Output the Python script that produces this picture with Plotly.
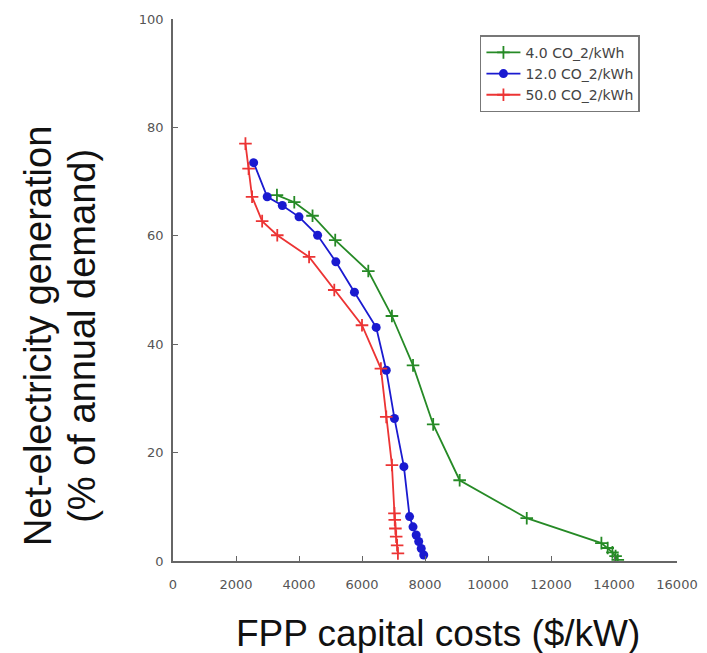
import plotly.graph_objects as go

# FPP capital costs ($/kW) vs net-electricity generation (% of annual demand)
green_label = "4.0 CO_2/kWh"
green_x = [3300, 3850, 4430, 5150, 6200, 6950, 7620, 8260, 9100, 11230, 13600, 13800, 13950, 14050, 14120]
green_y = [67.5, 66.2, 63.7, 59.2, 53.5, 45.2, 36.1, 25.2, 14.9, 7.9, 3.3, 2.4, 1.6, 0.9, 0.2]

blue_label = "12.0 CO_2/kWh"
blue_x = [2560, 2990, 3470, 4000, 4590, 5170, 5760, 6450, 6770, 7030, 7330, 7510, 7620, 7720, 7800, 7880, 7960]
blue_y = [73.5, 67.2, 65.6, 63.5, 60.1, 55.2, 49.6, 43.1, 35.2, 26.3, 17.4, 8.2, 6.3, 4.8, 3.6, 2.3, 1.1]

red_label = "50.0 CO_2/kWh"
red_x = [2300, 2400, 2510, 2830, 3310, 4320, 5120, 6000, 6600, 6770, 6950, 7030, 7040, 7060, 7085, 7115, 7140]
red_y = [77.0, 72.4, 67.2, 62.7, 60.1, 56.1, 50.0, 43.5, 35.5, 26.6, 17.7, 8.8, 7.6, 6.0, 4.5, 2.9, 1.4]

x_ticks = [0, 2000, 4000, 6000, 8000, 10000, 12000, 14000, 16000]
y_ticks = [0, 20, 40, 60, 80, 100]

x_title = "FPP capital costs ($/kW)"
y_title_1 = "Net-electricity generation"
y_title_2 = "(% of annual demand)"

GREEN = "#268a26"
BLUE = "#1a1ad0"
RED = "#ec3434"

fig = go.Figure()
fig.add_trace(go.Scatter(
    x=green_x, y=green_y, name=green_label, mode="lines+markers",
    line=dict(color=GREEN, width=1.8),
    marker=dict(symbol="cross-thin", size=9, color=GREEN, line=dict(color=GREEN, width=1.8)),
))
fig.add_trace(go.Scatter(
    x=blue_x, y=blue_y, name=blue_label, mode="lines+markers",
    line=dict(color=BLUE, width=1.8),
    marker=dict(symbol="circle", size=9, color=BLUE, line=dict(width=0)),
))
fig.add_trace(go.Scatter(
    x=red_x, y=red_y, name=red_label, mode="lines+markers",
    line=dict(color=RED, width=1.8),
    marker=dict(symbol="cross-thin", size=9, color=RED, line=dict(color=RED, width=1.8)),
))

axis_common = dict(
    showgrid=False, zeroline=False, showline=True, linecolor="#666666", linewidth=1.5,
    ticks="inside", ticklen=5, tickcolor="#666666", tickwidth=1.2, automargin=False,
    tickfont=dict(family="DejaVu Sans", size=13, color="#555555"),
)

fig.update_layout(
    width=707, height=653,
    margin=dict(l=165, r=38, t=11, b=100),
    paper_bgcolor="white", plot_bgcolor="white",
    xaxis=dict(range=[0, 16000], tickvals=x_ticks, ticktext=[str(v) for v in x_ticks],
               ticklabelstandoff=11, **axis_common),
    yaxis=dict(range=[0, 100], tickvals=y_ticks, ticktext=[str(v) for v in y_ticks],
               ticklabelstandoff=5, **axis_common),
    showlegend=True,
    legend=dict(
        x=0.609, y=0.970, xanchor="left", yanchor="top",
        bordercolor="#777777", borderwidth=1.5, bgcolor="white",
        font=dict(family="DejaVu Sans", size=14, color="#444444"),
        tracegroupgap=0, itemwidth=34,
    ),
    annotations=[
        dict(text=x_title, xref="paper", yref="paper", x=0.526, y=-0.133,
             xanchor="center", yanchor="middle", showarrow=False,
             font=dict(family="Liberation Sans", size=37, color="#111111")),
        dict(text=y_title_1, xref="paper", yref="paper", x=-0.268, y=0.415,
             xanchor="center", yanchor="middle", showarrow=False, textangle=-90,
             font=dict(family="Liberation Sans", size=38, color="#111111")),
        dict(text=y_title_2, xref="paper", yref="paper", x=-0.181, y=0.415,
             xanchor="center", yanchor="middle", showarrow=False, textangle=-90,
             font=dict(family="Liberation Sans", size=38, color="#111111")),
    ],
)

fig.write_html("out.html")
